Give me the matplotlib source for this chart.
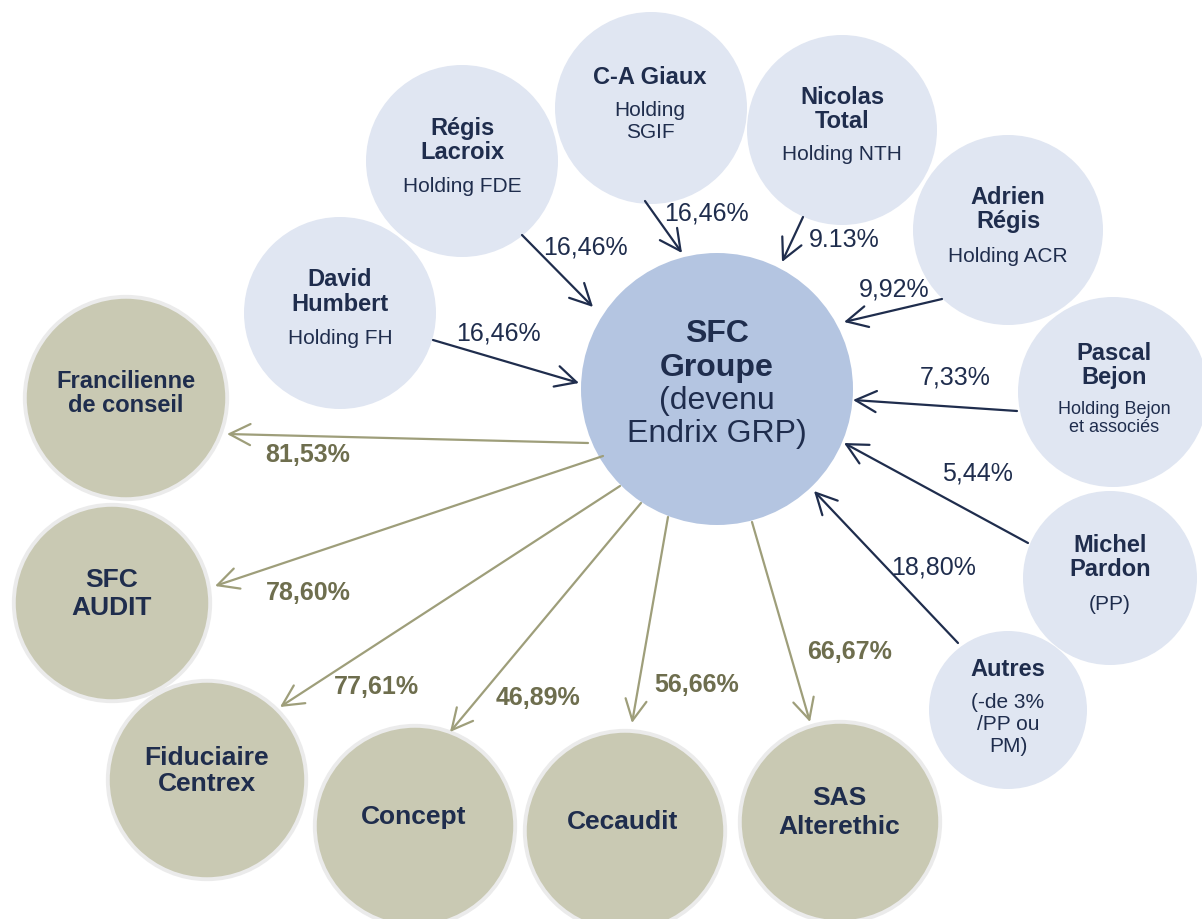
import matplotlib
matplotlib.use("Agg")
import matplotlib.pyplot as plt
from matplotlib.patches import Circle, FancyArrowPatch

plt.rcParams['font.family'] = ['Liberation Sans', 'DejaVu Sans']

# ---------------- data ----------------
center_name = ["SFC", "Groupe"]
center_sub = ["(devenu", "Endrix GRP)"]

owner_names = [["David", "Humbert"], ["Régis", "Lacroix"], ["C-A Giaux"],
               ["Nicolas", "Total"], ["Adrien", "Régis"], ["Pascal", "Bejon"],
               ["Michel", "Pardon"], ["Autres"]]
owner_subs = [["Holding FH"], ["Holding FDE"], ["Holding", "SGIF"],
              ["Holding NTH"], ["Holding ACR"], ["Holding Bejon", "et associés"],
              ["(PP)"], ["(-de 3%", "/PP ou", "PM)"]]
owner_pct = ["16,46%", "16,46%", "16,46%", "9.13%", "9,92%", "7,33%", "5,44%", "18,80%"]

sub_names = [["Francilienne", "de conseil"], ["SFC", "AUDIT"], ["Fiduciaire", "Centrex"],
             ["Concept"], ["Cecaudit"], ["SAS", "Alterethic"]]
sub_pct = ["81,53%", "78,60%", "77,61%", "46,89%", "56,66%", "66,67%"]

# ---------------- layout (pixel space) ----------------
W, H = 1202, 919
center_circle = (717, 389, 136)
center_text_y = [334, 368, 401, 434]

owner_circles = [(340, 313, 96), (462, 161, 96), (651, 108, 96), (842, 130, 95),
                 (1008, 230, 95), (1113, 392, 95), (1110, 578, 87), (1008, 710, 79)]
owner_text_x = [340, 462, 650, 842, 1008, 1114, 1110, 1008]
owner_name_y = [280, 128, 77, 97, 197, 353, 545, 669]
owner_sub_y = [338, 187, 110, 155, 256, 409, 604, 703]
owner_sub_pitch = [22, 22, 22, 22, 22, 19, 22, 22]
owner_sub_size = [15, 15, 15, 15, 15, 13, 15, 15]
owner_arrows = [((433, 340), (579, 383)), ((522, 235), (593, 307)),
                ((645, 201), (682, 253)), ((803, 217), (782, 262)),
                ((942, 299), (844, 322)), ((1017, 411), (853, 400)),
                ((1028, 543), (844, 443)), ((958, 643), (814, 491))]
owner_pct_xy = [(498, 334), (585, 247), (706, 214), (844, 240), (894, 289),
                (955, 377), (977, 474), (934, 568)]

sub_circles = [(126, 398, 103), (112, 603, 100), (207, 780, 101),
               (415, 826, 102), (625, 831, 102), (840, 822, 102)]
sub_text_x = [126, 112, 207, 414, 623, 839]
sub_name_y = [382, 580, 758, 817, 822, 798]
sub_name_pitch = [23, 28, 26, 27, 27, 29]
sub_name_size = [17, 19, 19, 19, 19, 19]
sub_arrows = [((588, 443), (227, 434)), ((603, 456), (215, 586)),
              ((620, 486), (280, 707)), ((641, 503), (450, 732)),
              ((668, 517), (632, 723)), ((752, 522), (810, 722))]
sub_pct_xy = [(308, 455), (308, 593), (376, 687), (538, 698), (697, 685), (850, 652)]

# ---------------- style ----------------
NAVY = "#1F2D4D"
LIGHT = "#E0E6F2"
CENTER = "#B4C5E1"
OLIVE = "#C9C9B3"
OLIVE_EDGE = "#EBEBEB"
OLIVE_TXT = "#6E6E4E"
OLIVE_LINE = "#9E9E7A"

fig = plt.figure(figsize=(W / 100, H / 100), dpi=100)
ax = fig.add_axes([0, 0, 1, 1])
ax.set_xlim(0, W)
ax.set_ylim(H, 0)
ax.set_aspect('equal')
ax.axis('off')

# circles
cx, cy, r = center_circle
ax.add_patch(Circle((cx, cy), r, facecolor=CENTER, edgecolor='none', zorder=2))
for (x, y, rr) in owner_circles:
    ax.add_patch(Circle((x, y), rr, facecolor=LIGHT, edgecolor='none', zorder=2))
for (x, y, rr) in sub_circles:
    ax.add_patch(Circle((x, y), rr - 1.8, facecolor=OLIVE, edgecolor=OLIVE_EDGE,
                        linewidth=2.8, zorder=2))

# arrows
def arrow(p0, p1, color):
    a = FancyArrowPatch(p0, p1, arrowstyle="->,head_length=0.75,head_width=0.38",
                        mutation_scale=20, color=color, linewidth=1.6,
                        shrinkA=0, shrinkB=0, zorder=3)
    ax.add_patch(a)

for (p0, p1) in owner_arrows:
    arrow(p0, p1, NAVY)
for (p0, p1) in sub_arrows:
    arrow(p0, p1, OLIVE_LINE)

# center text
lines = [(t, 'bold') for t in center_name] + [(t, 'normal') for t in center_sub]
for (t, w), y in zip(lines, center_text_y):
    ax.text(cx, y, t, ha='center', va='center', fontsize=23, fontweight=w,
            color=NAVY, zorder=4)

# owners text
for i in range(len(owner_names)):
    x = owner_text_x[i]
    for k, t in enumerate(owner_names[i]):
        ax.text(x, owner_name_y[i] + 24.5 * k, t, ha='center', va='center',
                fontsize=17, fontweight='bold', color=NAVY, zorder=4)
    for k, t in enumerate(owner_subs[i]):
        ax.text(x, owner_sub_y[i] + owner_sub_pitch[i] * k, t, ha='center', va='center',
                fontsize=owner_sub_size[i], color=NAVY, zorder=4)
    px, py = owner_pct_xy[i]
    ax.text(px, py, owner_pct[i], ha='center', va='center', fontsize=18,
            color=NAVY, zorder=4)

# subsidiaries text
for i in range(len(sub_names)):
    x = sub_text_x[i]
    for k, t in enumerate(sub_names[i]):
        ax.text(x, sub_name_y[i] + sub_name_pitch[i] * k, t, ha='center', va='center',
                fontsize=sub_name_size[i], fontweight='bold', color=NAVY, zorder=4)
    px, py = sub_pct_xy[i]
    ax.text(px, py, sub_pct[i], ha='center', va='center', fontsize=18,
            fontweight='bold', color=OLIVE_TXT, zorder=4)

fig.savefig("out.png", dpi=100, facecolor='white')
